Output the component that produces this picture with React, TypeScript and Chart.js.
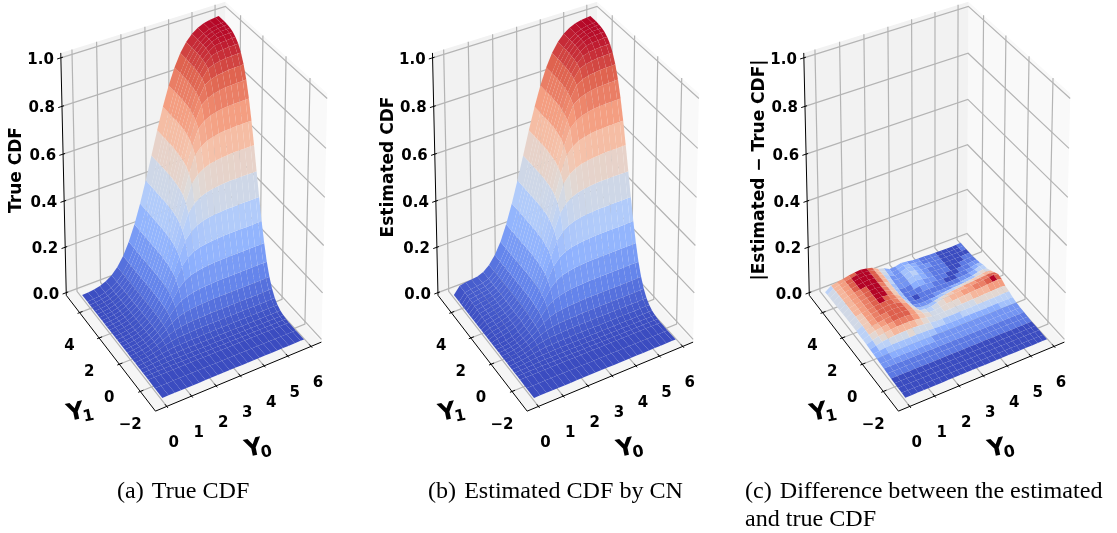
import React, { useEffect, useRef } from "react";
import { Chart, registerables } from "chart.js";

Chart.register(...registerables);

// Data
const y0Grid = [0,0.25,0.5,0.75,1,1.25,1.5,1.75,2,2.25,2.5,2.75,3,3.25,3.5,3.75,4,4.25,4.5,4.75,5,5.25,5.5,5.75,5.9];
const y1Grid = [-3,-2.3,-1.7,-1.45,-1.2,-0.95,-0.7,-0.45,-0.2,0.05,0.3,0.55,0.8,1.05,1.3,1.55,1.8,2.05,2.3,2.55,2.8,3.05,3.3,3.55,3.8,4.05,4.3,4.85];

// thousandths; rows follow y1Grid, columns follow y0Grid
const trueCdf = [
[0,0,0,0,0,0,0,0,0,0,0,0,0,0,0,0,0,0,0,0,0,0,0,0,0],
[0,0,0,0,0,0,0,0,0,0,0,0,0,0,0,0,0,0,0,0,0,0,0,0,0],
[1,1,1,1,1,1,1,1,1,1,1,1,1,1,1,1,1,1,1,1,1,1,1,1,1],
[1,1,2,2,3,3,3,3,3,3,3,3,3,3,3,3,3,3,3,3,3,3,3,3,3],
[1,2,3,4,5,6,6,6,6,6,6,6,6,6,6,6,6,6,6,6,6,6,6,6,6],
[1,2,4,7,9,10,11,12,12,12,12,12,12,12,12,12,12,12,12,12,12,12,12,12,12],
[1,3,5,9,13,17,20,21,22,22,22,23,23,23,23,23,23,23,23,23,23,23,23,23,23],
[1,3,6,10,17,25,31,35,37,38,39,40,40,40,40,40,40,40,40,40,40,40,40,40,40],
[1,3,6,11,20,31,44,53,59,62,64,65,66,67,67,67,67,67,67,67,67,67,67,67,67],
[1,3,6,12,21,35,53,73,87,95,99,102,104,105,106,106,106,106,106,106,106,106,106,106,106],
[1,3,6,12,22,37,59,87,115,134,144,150,154,156,157,159,159,159,159,159,159,159,159,159,159],
[1,3,6,12,22,38,62,95,134,172,196,209,216,221,223,225,227,227,227,227,227,227,227,227,227],
[1,3,6,12,22,39,64,99,144,196,245,272,288,297,302,305,306,309,309,309,309,309,309,309,309],
[1,3,6,12,23,40,65,102,150,209,272,332,361,378,388,394,397,399,401,401,401,401,401,401,401],
[1,3,6,12,23,40,66,104,154,216,288,361,428,459,476,486,492,496,498,500,500,500,500,500,500],
[1,3,6,12,23,40,67,105,156,221,297,378,459,529,559,576,586,591,594,596,599,599,599,599,599],
[1,3,6,12,23,40,67,106,157,223,302,388,476,559,628,655,671,679,685,688,689,691,691,691,691],
[1,3,6,12,23,40,67,106,159,225,305,394,486,576,655,719,742,756,763,768,770,772,773,773,773],
[1,3,6,12,23,40,67,106,159,227,306,397,492,586,671,742,798,816,827,833,837,839,840,841,841],
[1,3,6,12,23,40,67,106,159,227,309,399,496,591,679,756,816,861,876,884,888,891,892,893,894],
[1,3,6,12,23,40,67,106,159,227,309,401,498,594,685,763,827,876,910,920,926,929,931,932,932],
[1,3,6,12,23,40,67,106,159,227,309,401,500,596,688,768,833,884,920,944,951,955,957,958,959],
[1,3,6,12,23,40,67,106,159,227,309,401,500,599,689,770,837,888,926,951,968,972,974,976,976],
[1,3,6,12,23,40,67,106,159,227,309,401,500,599,691,772,839,891,929,955,972,982,985,986,987],
[1,3,6,12,23,40,67,106,159,227,309,401,500,599,691,773,840,892,931,957,974,985,991,992,993],
[1,3,6,12,23,40,67,106,159,227,309,401,500,599,691,773,841,893,932,958,976,986,992,995,996],
[1,3,6,12,23,40,67,106,159,227,309,401,500,599,691,773,841,894,932,959,976,987,993,996,998],
[1,3,6,12,23,40,67,106,159,227,309,401,500,599,691,773,841,894,933,960,977,988,994,997,999],
];

// thousandths by which the estimate stands above the truth, for the first columns of y0Grid
const estimateLift = [
[0],[0],[0],[0],[0],[0],[0],[0],[0],[0],[0],[0],[0],
[0,6,8,8,6,5,3,1],[0,7,9,9,7,5,4,2],[0,9,11,11,8,6,4,2],[0,11,13,13,10,7,5,2],[0,13,15,15,11,8,5,2],
[0,15,17,17,13,9,6,3],[0,17,19,19,14,10,6,3],[0,19,21,21,16,11,7,3],[0,21,23,22,17,12,7,3],[0,23,25,24,18,12,8,4],
[0,25,27,25,19,13,8,4],[0,27,28,26,20,13,9,4],[0,28,30,27,20,14,9,4],[0,29,31,28,21,14,9,4],[0,30,32,28,21,14,9,4],
];

const diffY0Grid = [0,0.25,0.5,0.75,1,1.25,1.5,1.75,2,2.25,2.5,2.75,3,3.25,3.5,3.75,4,4.25,4.5,4.75,5,5.25,5.5,5.7,5.9];
const diffY1Grid = [-3,-2.67,-2.33,-2,-1.67,-1.33,-1,-0.67,-0.33,0,0.33,0.67,1,1.33,1.67,2,2.33,2.67,3,3.33,3.67,4,4.33,4.6,4.85];

// thousandths
const diffCdf = [
[1,1,1,1,1,1,1,1,1,1,1,1,1,1,1,1,1,1,1,1,1,1,1,1,1],
[2,2,2,2,2,2,2,2,2,2,2,2,2,2,2,2,2,2,2,2,2,2,2,2,2],
[3,3,3,3,3,3,3,3,3,3,3,3,3,3,3,3,3,3,3,3,3,3,3,3,3],
[3,3,3,3,3,3,3,3,3,3,3,3,3,3,3,3,3,3,3,3,3,3,3,3,3],
[4,4,4,4,4,4,4,4,4,4,4,4,4,4,4,4,4,4,4,4,4,4,4,4,4],
[6,6,6,6,6,6,6,6,6,6,6,6,6,6,6,6,6,6,6,6,6,6,6,6,6],
[8,8,8,8,8,8,8,8,8,8,8,8,8,8,8,8,8,8,8,8,8,8,8,8,8],
[10,10,11,11,11,11,11,11,11,11,10,10,10,10,10,10,10,10,10,10,10,10,10,10,10],
[12,13,14,15,15,15,15,15,15,14,14,13,13,13,13,13,13,13,13,13,14,14,14,14,14],
[13,17,20,21,22,22,22,22,22,21,19,18,17,17,17,17,18,18,18,18,18,19,19,19,19],
[14,20,26,29,31,33,34,34,33,30,27,24,23,23,23,23,24,24,25,25,26,26,27,28,28],
[16,24,31,35,38,41,42,42,40,36,30,26,25,26,27,28,29,30,31,32,33,34,35,36,34],
[17,28,36,40,43,46,48,48,45,40,32,25,25,28,32,34,36,38,40,42,44,46,48,50,46],
[17,29,37,41,45,48,50,50,47,38,26,20,22,30,36,38,40,42,44,46,48,50,52,55,50],
[18,32,38,42,46,49,52,50,46,36,18,12,12,16,22,26,30,32,34,36,38,40,42,44,40],
[18,32,38,43,46,50,52,50,44,32,12,7,6,8,10,14,16,18,20,22,24,28,32,34,30],
[18,33,39,43,47,50,52,49,44,30,10,4,4,5,6,6,6,7,8,10,12,16,22,25,22],
[18,33,39,44,47,51,53,49,42,28,9,4,5,7,8,7,6,5,5,6,7,9,14,22,20],
[17,34,39,44,48,51,53,50,42,28,9,5,8,12,12,9,7,5,4,4,5,6,8,14,14],
[17,34,40,44,48,52,54,50,42,28,10,6,12,20,16,11,8,6,5,4,4,5,6,8,10],
[16,34,40,45,49,53,54,51,43,29,12,8,14,23,20,12,9,7,6,5,4,4,5,6,7],
[16,34,40,45,50,53,55,52,44,30,14,8,14,23,18,12,10,8,6,5,4,4,4,5,5],
[15,34,40,45,50,54,56,52,45,30,18,7,12,21,17,11,9,8,6,5,4,4,4,4,5],
[15,33,40,45,50,54,55,52,45,30,20,8,11,19,15,11,9,7,6,5,4,4,4,5,6],
[14,32,38,43,48,52,54,50,44,30,22,9,11,17,14,10,8,7,6,5,5,4,4,5,7],
];

const y0Ticks = [0,1,2,3,4,5,6];
const y1Ticks = [-2,0,2,4];
const zTicks = [0,0.2,0.4,0.6,0.8,1];
const zLabels = ["0.0","0.2","0.4","0.6","0.8","1.0"];
const y1Labels = ["\u22122","0","2","4"];
const panelTitles = ["True CDF","Estimated CDF","|Estimated \u2212 True CDF|"];
const captions = [
  { x: 117, y: 477, text: "(a)\u2004 True CDF".replace("\u2004 ", "\u2004") },
  { x: 428, y: 477, text: "(b)\u2004Estimated CDF by CN" },
  { x: 745, y: 477, text: "(c)\u2004Difference between the estimated" },
  { x: 745, y: 505, text: "and true CDF" },
];

const coolwarm = [[59,76,192],[98,130,234],[141,176,254],[184,208,249],[221,220,220],[245,196,172],[244,152,122],[222,96,77],[180,4,38]];
const diffBandEdges = [0.07,0.14,0.21,0.28,0.35,0.42,0.49,0.56,0.63,0.7,0.77,0.84,0.91];

const xLim = [-0.45, 6.45];
const yLim = [-3.4, 5.4];
const zLim = [-0.012, 1.02];
const elev = 26 * Math.PI / 180;
const azim = 240 * Math.PI / 180;
const dist = 10;
const panelOffset = [0, 371.7, 743];
const sx = 190.8, sy = 273, ox = 191.8, oy = 198.3;

function project(panel: number, u: number, v: number, w: number) {
  const qx = u - 0.5, qy = v - 0.5, qz = w - 0.5;
  const wx = Math.cos(elev) * Math.cos(azim), wy = Math.cos(elev) * Math.sin(azim), wz = Math.sin(elev);
  const n = Math.hypot(wx, wy);
  const rx = -wy / n, ry = wx / n;
  const ux = -wz * ry, uy = wz * rx, uz = wx * ry - wy * rx;
  const X = qx * rx + qy * ry;
  const Y = qx * ux + qy * uy + qz * uz;
  const Z = qx * wx + qy * wy + qz * wz;
  const f = dist / (dist - Z);
  return { x: panelOffset[panel] + ox + sx * X * f, y: oy - sy * Y * f, depth: Z };
}
const nu = (v: number) => (v - xLim[0]) / (xLim[1] - xLim[0]);
const nv = (v: number) => (v - yLim[0]) / (yLim[1] - yLim[0]);
const nw = (v: number) => (v - zLim[0]) / (zLim[1] - zLim[0]);

function coolwarmAt(t: number) {
  const p = Math.max(0, Math.min(1, t)) * (coolwarm.length - 1);
  const i = Math.min(coolwarm.length - 2, Math.floor(p));
  const f = p - i;
  const c = coolwarm[i].map((a, k) => Math.round(a + (coolwarm[i + 1][k] - a) * f));
  return `rgb(${c[0]},${c[1]},${c[2]})`;
}
function bandColour(t: number, edges: number[] | null) {
  if (!edges) return coolwarmAt(t);
  let k = 0;
  while (k < edges.length && t >= edges[k]) k++;
  if (k === 0) return coolwarmAt(0);
  if (k === edges.length) return coolwarmAt(1);
  return coolwarmAt((edges[k - 1] + edges[k]) / 2);
}

function lineSet(points: { x: number; y: number }[], colour: string, width: number) {
  return { data: points.map(p => ({ x: p.x, y: p.y })), showLine: true, borderColor: colour, borderWidth: width, pointRadius: 0, fill: false, backgroundColor: colour };
}
function shapeSet(points: { x: number; y: number }[], colour: string) {
  return { data: points.map(p => ({ x: p.x, y: p.y })), showLine: true, borderWidth: 0, borderColor: colour, pointRadius: 0, fill: "shape", backgroundColor: colour };
}

function panelDatasets(panel: number, table: number[][], gx: number[], gy: number[], edges: number[] | null) {
  const out: any[] = [];
  const P = (u: number, v: number, w: number) => project(panel, u, v, w);
  out.push(shapeSet([P(1,0,0),P(1,1,0),P(1,1,1),P(1,0,1)], "#f9f9f9"));
  out.push(shapeSet([P(0,1,0),P(1,1,0),P(1,1,1),P(0,1,1)], "#f2f2f2"));
  out.push(shapeSet([P(0,0,0),P(1,0,0),P(1,1,0),P(0,1,0)], "#f5f5f5"));
  const grid = "#b4b4b4";
  y0Ticks.forEach(t => {
    out.push(lineSet([P(nu(t),0,0),P(nu(t),1,0),P(nu(t),1,1)], grid, 1.2));
  });
  y1Ticks.forEach(t => {
    out.push(lineSet([P(0,nv(t),0),P(1,nv(t),0),P(1,nv(t),1)], grid, 1.2));
  });
  zTicks.forEach(t => {
    out.push(lineSet([P(0,1,nw(t)),P(1,1,nw(t)),P(1,0,nw(t))], grid, 1.2));
  });
  out.push(lineSet([P(0,0,0),P(1,0,0)], "#000", 1));
  out.push(lineSet([P(0,0,0),P(0,1,0)], "#000", 1));
  out.push(lineSet([P(0,1,0),P(0,1,1)], "#000", 1));
  y0Ticks.forEach(t => out.push(lineSet([P(nu(t),-0.012,0),P(nu(t),0.018,0)], "#000", 1)));
  y1Ticks.forEach(t => out.push(lineSet([P(-0.012,nv(t),0),P(0.018,nv(t),0)], "#000", 1)));
  zTicks.forEach(t => out.push(lineSet([P(-0.022,1,nw(t)),P(0.012,1,nw(t))], "#000", 1)));

  const vals = table.flat();
  const top = Math.max(...vals), low = Math.min(...vals);
  const quads: { depth: number; pts: any[]; colour: string }[] = [];
  for (let j = 0; j < gy.length - 1; j++) {
    for (let i = 0; i < gx.length - 1; i++) {
      const corner = (a: number, b: number) => P(nu(gx[a]), nv(gy[b]), nw(table[b][a] * 0.001));
      const pts = [corner(i,j),corner(i+1,j),corner(i+1,j+1),corner(i,j+1)];
      const mean = (table[j][i] + table[j][i+1] + table[j+1][i+1] + table[j+1][i]) / 4;
      quads.push({
        depth: pts.reduce((s, p) => s + p.depth, 0) / 4,
        pts,
        colour: bandColour((mean - low) / (top - low), edges),
      });
    }
  }
  quads.sort((a, b) => a.depth - b.depth);
  quads.forEach(q => out.push(shapeSet(q.pts, q.colour)));
  return out;
}

const labelPlugin = {
  id: "panelLabels",
  afterDraw(chart: any) {
    const ctx = chart.ctx;
    const xs = chart.scales.x, ys = chart.scales.y;
    const at = (p: { x: number; y: number }) => [xs.getPixelForValue(p.x), ys.getPixelForValue(p.y)];
    ctx.save();
    ctx.fillStyle = "#000";
    ctx.textBaseline = "middle";
    [0, 1, 2].forEach(panel => {
      ctx.font = 'bold 15px "DejaVu Sans"';
      ctx.textAlign = "center";
      y0Ticks.forEach(t => {
        const [x, y] = at(project(panel, nu(t), 0, 0));
        ctx.fillText(String(t), x + 7, y + 37);
      });
      y1Ticks.forEach((t, k) => {
        const [x, y] = at(project(panel, 0, nv(t), 0));
        ctx.fillText(y1Labels[k], x - 10, y + 34);
      });
      ctx.textAlign = "right";
      zTicks.forEach((t, k) => {
        const [x, y] = at(project(panel, 0, 1, nw(t)));
        ctx.fillText(zLabels[k], x - 7, y + 2);
      });
      const dx = panelOffset[panel];
      ctx.save();
      ctx.translate(dx + 17, panel === 1 ? 167 : 170);
      ctx.rotate(-Math.PI / 2);
      ctx.textAlign = "center";
      ctx.font = 'bold 17px "DejaVu Sans"';
      ctx.fillText(panelTitles[panel], 0, 0);
      ctx.restore();
      const axisLabel = (x: number, y: number, sub: string) => {
        ctx.save();
        ctx.translate(dx + x, y);
        ctx.rotate(-12 * Math.PI / 180);
        ctx.textAlign = "left";
        ctx.font = 'bold 24px "DejaVu Sans"';
        ctx.fillText("Y", -9, 0);
        ctx.font = 'bold 16px "DejaVu Sans"';
        ctx.fillText(sub, 6, 6);
        ctx.restore();
      };
      axisLabel(254, 449, "0");
      axisLabel(76, 413, "1");
    });
    ctx.restore();
  },
};

export default function App() {
  const ref = useRef<HTMLCanvasElement>(null);
  useEffect(() => {
    const estimatedCdf = trueCdf.map((row, j) => row.map((v, i) => v + (estimateLift[j][i] ?? 0)));
    const datasets = [
      ...panelDatasets(0, trueCdf, y0Grid, y1Grid, null),
      ...panelDatasets(1, estimatedCdf, y0Grid, y1Grid, null),
      ...panelDatasets(2, diffCdf, diffY0Grid, diffY1Grid, diffBandEdges),
    ].reverse();
    const chart = new Chart(ref.current as HTMLCanvasElement, {
      type: "scatter",
      data: { datasets },
      options: {
        animation: false,
        responsive: false,
        events: [],
        layout: { padding: 0 },
        plugins: { legend: { display: false }, tooltip: { enabled: false } },
        scales: {
          x: { type: "linear", min: 0, max: 1117, display: false },
          y: { type: "linear", min: 0, max: 533, reverse: true, display: false },
        },
      },
      plugins: [labelPlugin],
    } as any);
    return () => chart.destroy();
  }, []);
  return (
    <div style={{ position: "absolute", left: 0, top: 0, width: 1117, height: 533, background: "#fff", overflow: "hidden" }}>
      <canvas ref={ref} width={1117} height={533} style={{ position: "absolute", left: 0, top: 0 }} />
      {captions.map(c => (
        <div key={c.text} style={{ position: "absolute", left: c.x, top: c.y, fontFamily: '"Liberation Serif"', fontSize: 24.1, lineHeight: "26px", whiteSpace: "pre", color: "#000" }}>
          {c.text}
        </div>
      ))}
    </div>
  );
}
